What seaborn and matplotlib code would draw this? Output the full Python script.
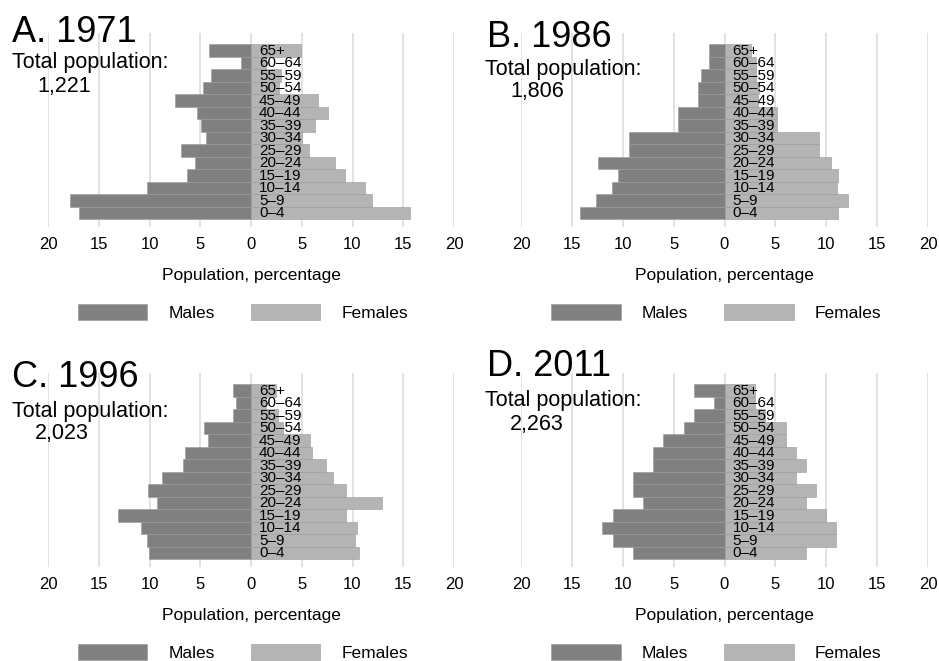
import pandas as pd
import matplotlib.pyplot as plt
import matplotlib.patches as mpatches
import seaborn as sns

# age groups, bottom (0-4) to top (65+)
ages = ['0–4', '5–9', '10–14', '15–19', '20–24', '25–29', '30–34',
        '35–39', '40–44', '45–49', '50–54', '55–59', '60–64', '65+']

males_1971 = [16.9, 17.8, 10.25, 6.3, 5.5, 6.85, 4.4, 4.95, 5.3, 7.5, 4.75, 3.9, 1.0, 4.1]
females_1971 = [15.7, 11.9, 11.2, 9.3, 8.3, 5.7, 5.0, 6.3, 7.55, 6.6, 2.8, 3.0, 1.5, 4.9]
males_1986 = [14.2, 12.6, 11.05, 10.5, 12.4, 9.35, 9.35, 4.6, 4.6, 2.6, 2.6, 2.3, 1.5, 1.5]
females_1986 = [11.2, 12.15, 11.1, 11.2, 10.5, 9.3, 9.3, 5.2, 5.2, 3.3, 3.4, 3.1, 3.1, 2.6]
males_1996 = [10.05, 10.25, 10.85, 13.1, 9.3, 10.15, 8.75, 6.7, 6.55, 4.25, 4.6, 1.8, 1.5, 1.8]
females_1996 = [10.6, 10.2, 10.4, 9.4, 12.9, 9.4, 8.1, 7.4, 6.05, 5.85, 3.2, 2.7, 1.5, 2.5]
males_2011 = [9, 11, 12, 11, 8, 9, 9, 7, 7, 6, 4, 3, 1, 3]
females_2011 = [8, 11, 11, 10, 8, 9, 7, 8, 7, 6, 6, 4, 3, 3]

titles = ['A. 1971', 'B. 1986', 'C. 1996', 'D. 2011']
totals = ['1,221', '1,806', '2,023', '2,263']
ticks = [-20, -15, -10, -5, 0, 5, 10, 15, 20]
tick_labels = ['20', '15', '10', '5', '0', '5', '10', '15', '20']

panels = [(males_1971, females_1971), (males_1986, females_1986),
          (males_1996, females_1996), (males_2011, females_2011)]

male_col = '#808080'
female_col = '#b4b4b4'

sns.set_style('white')
plt.rcParams['font.family'] = ['Liberation Sans', 'DejaVu Sans']
plt.rcParams['text.color'] = 'black'
plt.rcParams['axes.labelcolor'] = 'black'
plt.rcParams['xtick.color'] = 'black'

W, H = 939, 661
fig = plt.figure(figsize=(W / 100, H / 100), dpi=100)

# axes boxes in pixels: left, top, right, bottom
boxes = [(48, 33, 454, 227), (521, 33, 928, 227),
         (48, 373, 454, 567), (521, 373, 928, 567)]
# text anchors in pixels: title, total-population, number
text_pos = [((12, 42), (12, 68), (37, 92)),
            ((487, 47), (485, 75), (510, 97)),
            ((12, 387), (12, 417), (35, 439)),
            ((487, 376), (485, 406), (510, 430))]

order = ages[::-1]
for i, (m, f) in enumerate(panels):
    l, t, r, b = boxes[i]
    ax = fig.add_axes([l / W, 1 - b / H, (r - l) / W, (b - t) / H])
    df = pd.DataFrame({
        'age': ages * 2,
        'sex': ['Males'] * len(ages) + ['Females'] * len(ages),
        'value': [-v for v in m] + list(f),
    })
    sns.barplot(data=df, x='value', y='age', hue='sex', order=order,
                hue_order=['Males', 'Females'],
                palette={'Males': male_col, 'Females': female_col},
                dodge=False, width=1, orient='h', legend=False,
                edgecolor='#999999', linewidth=0.4, ax=ax)
    ax.set_xlim(-20, 20)
    ax.set_ylim(13.5 + 0.64, -0.5 - 0.88)
    ax.set_xticks(ticks)
    ax.set_xticklabels(tick_labels, fontsize=12)
    ax.set_yticks([])
    ax.set_ylabel('')
    ax.tick_params(axis='x', length=0, pad=7)
    ax.grid(axis='x', color='#dddddd', linewidth=1.2)
    ax.set_axisbelow(True)
    for s in ax.spines.values():
        s.set_visible(False)
    ax.set_xlabel('Population, percentage', fontsize=12.5, labelpad=12)

    # age group labels sit just right of zero, on top of the bars
    for j, age in enumerate(order):
        ax.text(0.8, j + 0.05, age, va='center', ha='left', fontsize=11)

    handles = [mpatches.Patch(facecolor=male_col, edgecolor='#999999', lw=0.4, label='Males'),
               mpatches.Patch(facecolor=female_col, edgecolor='#999999', lw=0.4, label='Females')]
    ax.legend(handles=handles, loc='center', bbox_to_anchor=(0.48, -0.44),
              ncol=2, frameon=False, fontsize=12.5, handlelength=4.0,
              handleheight=1.1, handletextpad=1.2, columnspacing=2.1)

    (tx, ty), (px, py), (nx, ny) = text_pos[i]
    fig.text(tx / W, 1 - ty / H, titles[i], fontsize=26, va='baseline')
    fig.text(px / W, 1 - py / H, 'Total population:', fontsize=15.5, va='baseline')
    fig.text(nx / W, 1 - ny / H, totals[i], fontsize=15.5, va='baseline')

fig.savefig('out.png', dpi=100)
